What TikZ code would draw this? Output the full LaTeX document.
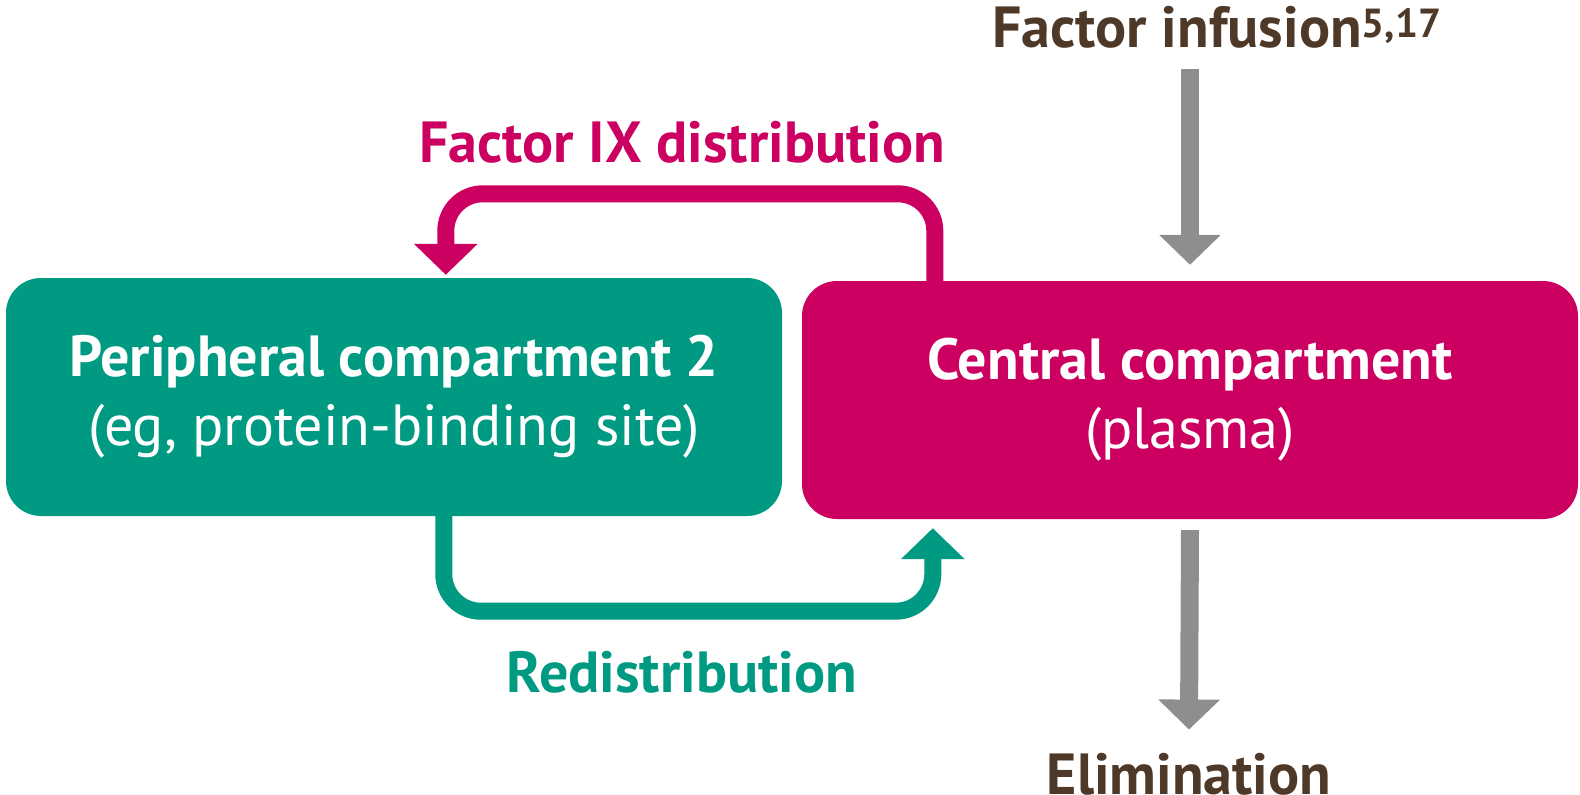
\documentclass[tikz,border=0pt]{standalone}
\usepackage{fontspec}
\setmainfont{PT Sans}
\usetikzlibrary{arrows.meta}
\definecolor{nejmgreen}{RGB}{0,154,130}
\definecolor{nejmmagenta}{RGB}{204,0,96}
\definecolor{flowgray}{RGB}{142,142,142}
\definecolor{labelbrown}{RGB}{78,56,40}

\begin{document}
\begin{tikzpicture}[x=1pt,y=-1pt]
\tikzstyle{compartment}=[rectangle, rounded corners=35pt, minimum width=776pt, minimum height=238pt, text=white, align=center, inner sep=0pt, font=\fontsize{58}{69}\selectfont]
\tikzstyle{title}=[font=\bfseries\fontsize{58}{66}\selectfont, inner sep=0pt]
\tikzstyle{loop}=[line width=17pt, rounded corners=37pt, -{Triangle[width=62pt,length=31pt]}]
\tikzstyle{flow}=[draw=flowgray, line width=18pt, -{Triangle[width=60pt,length=30pt]}]

\useasboundingbox (0,0) rectangle (1580,795);

% Define compartments
\node[compartment, fill=nejmgreen] (periph) at (394,397) {\textbf{Peripheral compartment 2}\\(eg, protein-binding site)};
\node[compartment, fill=nejmmagenta] (central) at (1190,400) {\textbf{Central compartment}\\(plasma)};

% Labels
\node[title, text=nejmmagenta, anchor=base] (distlabel) at (682,162) {Factor IX distribution};
\node[title, text=nejmgreen, anchor=base] (redistlabel) at (682,692) {Redistribution};
\node[title, text=labelbrown, anchor=base] (infuse) at (1217,47) {Factor infusion\textsuperscript{5,17}};
\node[title, text=labelbrown, anchor=base] (elim) at (1189,794) {Elimination};

% Distribution loops
\draw[loop, draw=nejmmagenta] ([xshift=133pt]central.north west) -- ++(0,-87) -| ([xshift=440pt,yshift=3pt]periph.north west);
\draw[loop, draw=nejmgreen] ([xshift=438pt]periph.south west) -- ++(0,95) -| ([xshift=131pt,yshift=-9pt]central.south west);

% Infusion and elimination
\draw[flow] ([yshift=-21pt]infuse.south -| central.north) -- ([yshift=16pt]central.north);
\draw[flow] ([yshift=-11pt]central.south) -- ([yshift=23pt]elim.north);
\end{tikzpicture}
\end{document}
